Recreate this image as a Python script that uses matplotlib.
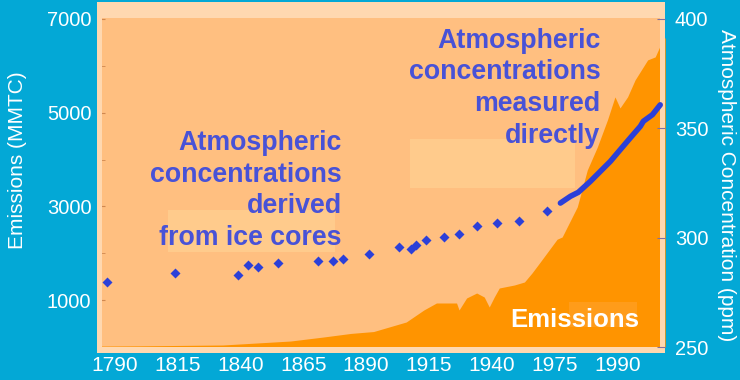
import numpy as np
import matplotlib.pyplot as plt
from matplotlib.patches import Rectangle

# carbon emissions (MMTC)
em_year = [1784, 1800, 1833, 1860, 1873, 1884, 1893, 1906, 1913, 1918, 1922, 1926,
           1927, 1930, 1934, 1937, 1939, 1941, 1943, 1949, 1953, 1956, 1959, 1966,
           1968, 1974, 1978, 1982, 1986, 1989, 1991, 1994, 1997, 2002, 2005, 2008, 2009]
em_val = [20, 25, 43, 128, 213, 290, 330, 534, 790, 939, 939, 939,
          790, 1046, 1152, 1067, 854, 1067, 1259, 1323, 1387, 1579, 1793, 2300,
          2347, 2988, 3777, 4268, 4844, 5335, 5100, 5335, 5698, 6125, 6189, 6551, 6600]

# CO2 from ice cores (ppm)
ice_year = [1787, 1814, 1839, 1843, 1847, 1855, 1871, 1877, 1881, 1891,
            1903, 1908, 1910, 1914, 1921, 1927, 1934, 1942, 1951, 1962]
ice_ppm = [279.7, 283.9, 282.9, 287.5, 286.6, 288.4, 289.3, 289.3, 290.3, 292.5,
           295.7, 294.8, 296.7, 298.9, 300.3, 301.7, 305.4, 306.7, 307.6, 312.2]

# CO2 measured directly (ppm)
ml_year = [1967.3, 1971.3, 1974.4, 1979.2, 1983.2, 1987.2, 1991.1, 1995.1, 1999.1, 2000.3, 2003.9, 2007.0]
ml_ppm = [315.8, 318.9, 320.7, 325.7, 330.3, 334.9, 340.2, 345.6, 350.9, 353.2, 356.2, 360.7]

tick_labels = ['1790', '1815', '1840', '1865', '1890', '1915', '1940', '1975', '1990']

bg = '#03A8D6'
plot_bg = '#FFBF80'
fill_col = '#FF9400'
light = '#FFCB8C'
edge = '#FFD8B0'
txt_blue = '#4852D7'
dot_blue = '#2C40D8'
font = 'Liberation Sans'

fig = plt.figure(figsize=(7.4, 3.8), dpi=100, facecolor=bg)
ax = fig.add_axes([0.131, 0.071, 0.768, 0.924])
ax.set_facecolor(plot_bg)

ax.fill_between(em_year, em_val, 0, color=fill_col, lw=0, zorder=2)
ax.set_xlim(1783, 2009)
ax.set_ylim(-128, 7362)

# lighter patches left over in the original picture
for (x0, y0, w, h, c) in [(0.125, 0.288, 0.294, 0.12, light),
                          (0.551, 0.469, 0.29, 0.14, light),
                          (0.831, 0.074, 0.12, 0.071, '#FF9C1A'),
                          (0, 0.954, 1, 0.046, edge),
                          (0, 0, 1, 0.017, edge),
                          (0, 0, 0.009, 1, edge),
                          (0.991, 0, 0.009, 1, edge)]:
    ax.add_patch(Rectangle((x0, y0), w, h, transform=ax.transAxes, color=c, lw=0,
                           zorder=1 if c == light else 3))

ax.set_xticks(1790 + 25 * np.arange(len(tick_labels)))
ax.set_xticklabels(tick_labels)
ax.set_yticks([1000, 3000, 5000, 7000])
ax.set_yticks([2000, 4000, 6000], minor=True)
ax.tick_params(axis='x', length=0, pad=2, labelcolor='white', labelsize=15)
ax.tick_params(axis='y', which='both', direction='in', length=6, color='#D08850',
               pad=4, labelcolor='white', labelsize=14.5)
for lab in ax.get_xticklabels() + ax.get_yticklabels():
    lab.set_family(font)
for s in ax.spines.values():
    s.set_visible(False)
ax.set_ylabel('Emissions (MMTC)', color='white', fontsize=15, family=font)
ax.yaxis.set_label_coords(-0.123, 0.55)

ax2 = ax.twinx()
ax2.set_ylim(250 - 128 * 150 / 7000, 250 + 7362 * 150 / 7000)
ax2.plot(ice_year, ice_ppm, 'D', color=dot_blue, ms=5, mec='none', zorder=5)
ax2.plot(ml_year, ml_ppm, '-', color=dot_blue, lw=4, solid_capstyle='round', zorder=5)
ax2.set_yticks([250, 300, 350, 400])
ax2.tick_params(axis='y', direction='in', length=6, color='#8070A0', pad=7,
                labelcolor='white', labelsize=14.5)
for lab in ax2.get_yticklabels():
    lab.set_family(font)
for s in ax2.spines.values():
    s.set_visible(False)
ax2.set_ylabel('Atmospheric Concentration (ppm)', color='white', fontsize=15,
               family=font, rotation=270, va='center')
ax2.yaxis.set_label_coords(1.107, 0.479)

ax2.text(0.431, 0.635, 'Atmospheric\nconcentrations\nderived\nfrom ice cores',
         transform=ax.transAxes, ha='right', va='top', color=txt_blue,
         fontsize=19.3, fontweight='bold', family=font, linespacing=1.28, zorder=6)
ax2.text(0.886, 0.926, 'Atmospheric\nconcentrations\nmeasured\ndirectly',
         transform=ax.transAxes, ha='right', va='top', color=txt_blue,
         fontsize=19.3, fontweight='bold', family=font, linespacing=1.28, zorder=6)
ax2.text(0.727, 0.074, 'Emissions', transform=ax.transAxes, ha='left', va='baseline',
         color='white', fontsize=18.5, fontweight='bold', family=font, zorder=6)

fig.savefig('out.png', dpi=100, facecolor=bg)
